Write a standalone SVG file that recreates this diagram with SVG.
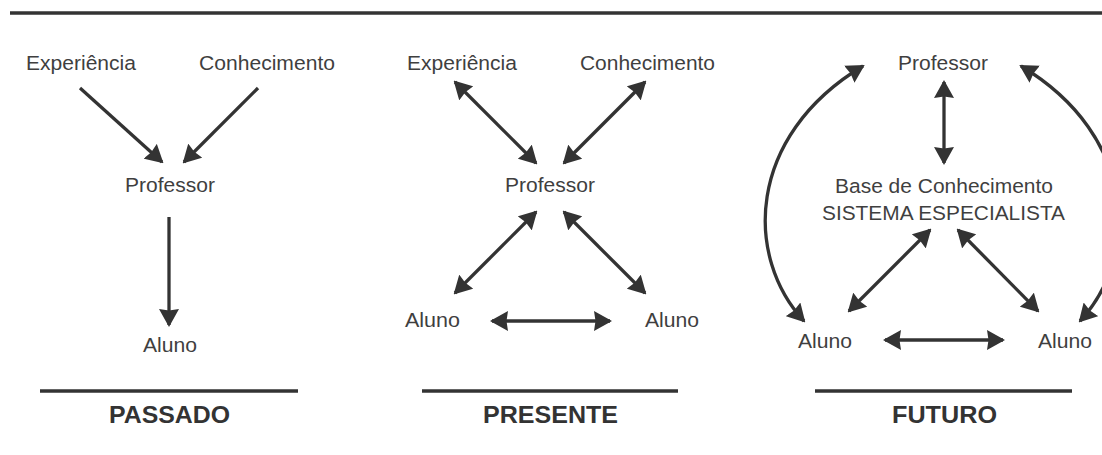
<svg xmlns="http://www.w3.org/2000/svg" width="1102" height="455" viewBox="0 0 1102 455">
<style>
.t{font-family:"Liberation Sans",Arial,sans-serif;font-size:20.5px;fill:#3f3f3f}
.h{font-family:"Liberation Sans",Arial,sans-serif;font-size:23px;font-weight:bold;fill:#333}
.c{stroke:#333;stroke-width:3.3;fill:none}
.d{marker-start:url(#ah);marker-end:url(#ah)}
.s{marker-end:url(#ah)}
.r{stroke:#333;stroke-width:3.5}
</style>
<defs>
<marker id="ah" markerUnits="userSpaceOnUse" markerWidth="18" markerHeight="20" refX="16" refY="10" orient="auto-start-reverse" viewBox="0 0 18 20">
<path d="M0,0 L18,10 L0,20 L1.5,10 z" fill="#333"/>
</marker>
</defs>
<rect width="1102" height="455" fill="#fff"/>
<line class="r" x1="10" y1="13" x2="1102" y2="13"/>
<g id="connectors">
<line class="c s" x1="80" y1="88" x2="162" y2="162"/>
<line class="c s" x1="258" y1="88" x2="184" y2="162"/>
<line class="c s" x1="169" y1="217" x2="169" y2="325"/>
<line class="c d" x1="455" y1="82" x2="536" y2="163"/>
<line class="c d" x1="645" y1="82" x2="564" y2="163"/>
<line class="c d" x1="536" y1="212" x2="455" y2="293"/>
<line class="c d" x1="564" y1="212" x2="645" y2="293"/>
<line class="c d" x1="492" y1="321" x2="610" y2="321"/>
<line class="c d" x1="944" y1="82" x2="944" y2="163"/>
<line class="c d" x1="930" y1="230" x2="849" y2="311"/>
<line class="c d" x1="958" y1="230" x2="1038" y2="311"/>
<line class="c d" x1="885" y1="340" x2="1003" y2="340"/>
<path class="c d" d="M863,66 C745,137 745,258 804,321"/>
<path class="c d" d="M1021,66 C1139,137 1139,258 1080,321"/>
</g>
<g id="passado">
<text class="t" x="26" y="70" textLength="110" lengthAdjust="spacingAndGlyphs">Experiência</text>
<text class="t" x="199" y="70" textLength="136" lengthAdjust="spacingAndGlyphs">Conhecimento</text>
<text class="t" x="125" y="192" textLength="90" lengthAdjust="spacingAndGlyphs">Professor</text>
<text class="t" x="143" y="352" textLength="54" lengthAdjust="spacingAndGlyphs">Aluno</text>
<line class="r" x1="40" y1="391" x2="298" y2="391"/>
<text class="h" x="109" y="423" textLength="121" lengthAdjust="spacingAndGlyphs">PASSADO</text>
</g>
<g id="presente">
<text class="t" x="407" y="70" textLength="110" lengthAdjust="spacingAndGlyphs">Experiência</text>
<text class="t" x="580" y="70" textLength="135" lengthAdjust="spacingAndGlyphs">Conhecimento</text>
<text class="t" x="505" y="192" textLength="90" lengthAdjust="spacingAndGlyphs">Professor</text>
<text class="t" x="405" y="327" textLength="55" lengthAdjust="spacingAndGlyphs">Aluno</text>
<text class="t" x="645" y="327" textLength="54" lengthAdjust="spacingAndGlyphs">Aluno</text>
<line class="r" x1="422" y1="391" x2="678" y2="391"/>
<text class="h" x="483" y="423" textLength="135" lengthAdjust="spacingAndGlyphs">PRESENTE</text>
</g>
<g id="futuro">
<text class="t" x="898" y="70" textLength="90" lengthAdjust="spacingAndGlyphs">Professor</text>
<text class="t" x="835" y="193" textLength="218" lengthAdjust="spacingAndGlyphs">Base de Conhecimento</text>
<text class="t" x="822" y="220" textLength="243" lengthAdjust="spacingAndGlyphs">SISTEMA ESPECIALISTA</text>
<text class="t" x="798" y="348" textLength="54" lengthAdjust="spacingAndGlyphs">Aluno</text>
<text class="t" x="1038" y="348" textLength="54" lengthAdjust="spacingAndGlyphs">Aluno</text>
<line class="r" x1="815" y1="391" x2="1072" y2="391"/>
<text class="h" x="892" y="423" textLength="105" lengthAdjust="spacingAndGlyphs">FUTURO</text>
</g>
</svg>
